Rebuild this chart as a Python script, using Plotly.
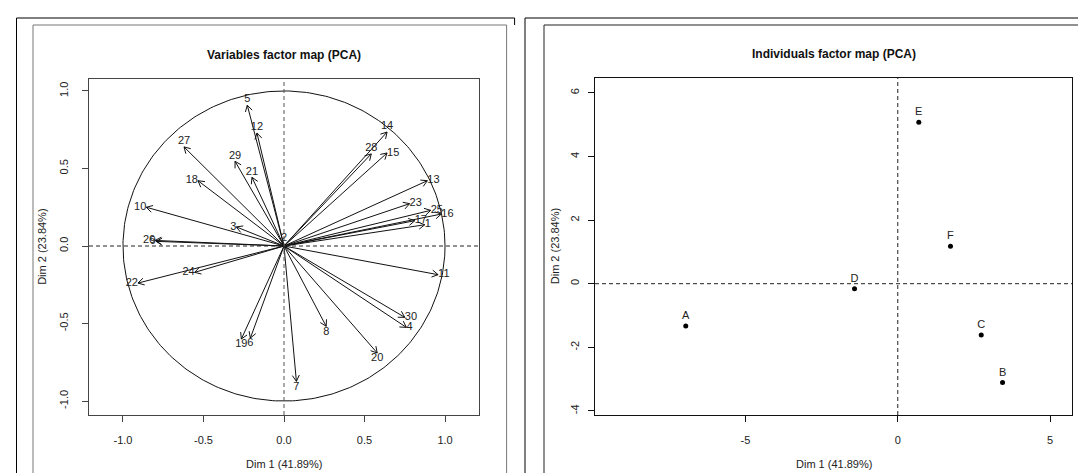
import numpy as np
import plotly.graph_objects as go

# ---------------- data ----------------
var_names = [str(i) for i in range(1, 31)]
var_dim1 = [0.874, 0.000, -0.296, 0.760, -0.228, -0.209, 0.077, 0.262, -0.795, -0.855,
            0.957, -0.168, 0.890, 0.640, 0.640, 0.977, 0.812, -0.534, -0.265, 0.579,
            -0.199, -0.907, 0.780, -0.555, 0.911, -0.800, -0.621, 0.542, -0.304, 0.750]
var_dim2 = [0.137, 0.013, 0.123, -0.525, 0.908, -0.594, -0.873, -0.518, 0.030, 0.250,
            -0.185, 0.729, 0.421, 0.735, 0.600, 0.206, 0.163, 0.421, -0.600, -0.690,
            0.443, -0.239, 0.273, -0.170, 0.230, 0.036, 0.639, 0.594, 0.546, -0.460]

ind_names = ["A", "B", "C", "D", "E", "F"]
ind_dim1 = [-6.96, 3.44, 2.74, -1.42, 0.69, 1.73]
ind_dim2 = [-1.33, -3.11, -1.61, -0.16, 5.08, 1.18]

var_title = "Variables factor map (PCA)"
ind_title = "Individuals factor map (PCA)"
x_title = "Dim 1 (41.89%)"
y_title = "Dim 2 (23.84%)"

var_xticks = [-1.0, -0.5, 0.0, 0.5, 1.0]
var_xticktext = ["-1.0", "-0.5", "0.0", "0.5", "1.0"]
var_yticks = [-1.0, -0.5, 0.0, 0.5, 1.0]
var_yticktext = ["-1.0", "-0.5", "0.0", "0.5", "1.0"]
ind_xticks = [-5, 0, 5]
ind_xticktext = ["-5", "0", "5"]
ind_yticks = [-4, -2, 0, 2, 4, 6]
ind_yticktext = ["-4", "-2", "0", "2", "4", "6"]

# ---------------- layout constants (pixels) ----------------
W, H = 1086, 473
FONT = "Liberation Sans, Arial, Helvetica, sans-serif"

L_X0, L_X1, L_Y0, L_Y1 = 81, 471, 70.7, 407
L_XR = [-1.211, 1.211]
L_YR = [-1.090, 1.079]

R_X0, R_X1, R_Y0, R_Y1 = 587, 1064, 69.5, 407
R_XR = [-9.94, 5.72]
R_YR = [-4.129, 6.484]

def px(x):
    return x / W

def py(y):
    return 1 - y / H

label_pos = {
    "1": "middle right", "2": "top center", "3": "middle left", "4": "middle right",
    "5": "top center", "6": "bottom center", "7": "bottom center", "8": "bottom center",
    "9": "middle left", "10": "middle left", "11": "middle right", "12": "top center",
    "13": "middle right", "14": "top center", "15": "middle right", "16": "middle right",
    "17": "middle right", "18": "middle left", "19": "bottom center", "20": "bottom center",
    "21": "top center", "22": "middle left", "23": "middle right", "24": "middle left",
    "25": "middle right", "26": "middle left", "27": "top center", "28": "top center",
    "29": "top center", "30": "middle right",
}

# pixels per unit, for arrowheads drawn in screen space
sx = (L_X1 - L_X0) / (L_XR[1] - L_XR[0])
sy = (L_Y1 - L_Y0) / (L_YR[1] - L_YR[0])
HEAD = 7.0
ANG = np.deg2rad(30)

ax_x, ax_y = [], []
for x, y in zip(var_dim1, var_dim2):
    ax_x += [0, x, None]
    ax_y += [0, y, None]
    vx, vy = x * sx, y * sy
    L = np.hypot(vx, vy)
    if L < 8:
        continue
    ux, uy = vx / L, vy / L
    for a in (ANG, -ANG):
        rx = ux * np.cos(a) - uy * np.sin(a)
        ry = ux * np.sin(a) + uy * np.cos(a)
        hx = x - HEAD * rx / sx
        hy = y - HEAD * ry / sy
        ax_x += [hx, x, None]
        ax_y += [hy, y, None]

theta = np.linspace(0, 2 * np.pi, 361)

fig = go.Figure()

fig.add_trace(go.Scatter(x=np.cos(theta), y=np.sin(theta), mode="lines",
                         line=dict(color="#111", width=1), hoverinfo="skip",
                         xaxis="x", yaxis="y"))
fig.add_trace(go.Scatter(x=ax_x, y=ax_y, mode="lines",
                         line=dict(color="#111", width=1), hoverinfo="skip",
                         xaxis="x", yaxis="y"))
fig.add_trace(go.Scatter(x=var_dim1, y=var_dim2, mode="text", text=var_names,
                         textposition=[label_pos[n] for n in var_names],
                         textfont=dict(family=FONT, size=11, color="#222"),
                         cliponaxis=False, xaxis="x", yaxis="y"))

fig.add_trace(go.Scatter(x=ind_dim1, y=ind_dim2, mode="markers+text", text=ind_names,
                         textposition="top center",
                         marker=dict(color="black", size=5),
                         textfont=dict(family=FONT, size=11, color="#222"),
                         xaxis="x2", yaxis="y2"))

def axis_common(color):
    return dict(showgrid=False, zeroline=False, showline=True, mirror=True,
                linecolor=color, linewidth=1, ticks="outside", ticklen=6,
                tickcolor=color, tickwidth=1,
                tickfont=dict(family=FONT, size=11, color="#222"))

fig.update_layout(
    width=W, height=H, margin=dict(l=0, r=0, t=0, b=0),
    paper_bgcolor="white", plot_bgcolor="white", showlegend=False,
    xaxis=dict(domain=[px(L_X0), px(L_X1)], range=L_XR, anchor="y",
               tickvals=var_xticks, ticktext=var_xticktext, ticklabelstandoff=9,
               **axis_common("#444")),
    yaxis=dict(domain=[py(L_Y1), py(L_Y0)], range=L_YR, anchor="x",
               tickvals=var_yticks, ticktext=var_yticktext, tickangle=-90,
               ticklabelstandoff=10, **axis_common("#444")),
    xaxis2=dict(domain=[px(R_X0), px(R_X1)], range=R_XR, anchor="y2",
                tickvals=ind_xticks, ticktext=ind_xticktext, ticklabelstandoff=9,
                **axis_common("#111")),
    yaxis2=dict(domain=[py(R_Y1), py(R_Y0)], range=R_YR, anchor="x2",
                tickvals=ind_yticks, ticktext=ind_yticktext, tickangle=-90,
                ticklabelstandoff=5, **axis_common("#111")),
)

dash = "4px,3px"
shapes = [
    dict(type="line", xref="x", yref="y domain", x0=0, x1=0, y0=0, y1=1,
         line=dict(color="#555", width=1, dash=dash)),
    dict(type="line", xref="x domain", yref="y", x0=0, x1=1, y0=0, y1=0,
         line=dict(color="#222", width=1, dash=dash)),
    dict(type="line", xref="x2", yref="y2 domain", x0=0, x1=0, y0=0, y1=1,
         line=dict(color="#222", width=1, dash=dash)),
    dict(type="line", xref="x2 domain", yref="y2", x0=0, x1=1, y0=0, y1=0,
         line=dict(color="#222", width=1, dash=dash)),
    # window frames
    dict(type="path", xref="paper", yref="paper",
         path=f"M {px(8.5)},{py(474)} L {px(8.5)},{py(10)} L {px(506.6)},{py(10)} L {px(506.6)},{py(17)}",
         line=dict(color="black", width=1)),
    dict(type="rect", xref="paper", yref="paper",
         x0=px(25), x1=px(498.6), y0=py(471), y1=py(17),
         line=dict(color="#777", width=1)),
    dict(type="path", xref="paper", yref="paper",
         path=f"M {px(517)},{py(474)} L {px(517)},{py(10)} L {px(1090)},{py(10)}",
         line=dict(color="black", width=1)),
    dict(type="path", xref="paper", yref="paper",
         path=f"M {px(1090)},{py(471)} L {px(536)},{py(471)} L {px(536)},{py(17)} L {px(1090)},{py(17)}",
         line=dict(color="#222", width=1)),
]
fig.update_layout(shapes=shapes)

ann_font = dict(family=FONT, size=11, color="#222")
annotations = [
    dict(text=f"<b>{var_title}</b>", x=px((L_X0 + L_X1) / 2), y=py(47),
         font=dict(family=FONT, size=12, color="#111")),
    dict(text=f"<b>{ind_title}</b>", x=px((R_X0 + R_X1) / 2), y=py(46),
         font=dict(family=FONT, size=12, color="#111")),
    dict(text=x_title, x=px((L_X0 + L_X1) / 2), y=py(456), font=ann_font),
    dict(text=x_title, x=px((R_X0 + R_X1) / 2), y=py(456), font=ann_font),
    dict(text=y_title, x=px(34), y=py((L_Y0 + L_Y1) / 2), textangle=-90, font=ann_font),
    dict(text=y_title, x=px(547), y=py((R_Y0 + R_Y1) / 2), textangle=-90, font=ann_font),
]
for a in annotations:
    a.update(xref="paper", yref="paper", showarrow=False, xanchor="center", yanchor="middle")
fig.update_layout(annotations=annotations)

fig.write_html("out.html")
